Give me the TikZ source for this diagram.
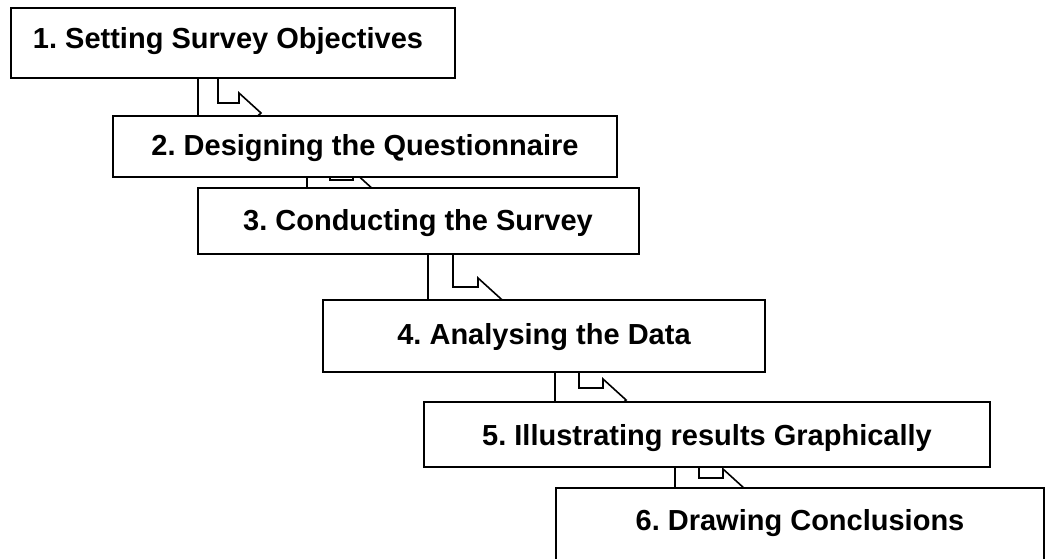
\documentclass[tikz,border=0pt]{standalone}
\usepackage{fontspec}
\setmainfont{Liberation Sans}
\usetikzlibrary{calc}
\pgfdeclarelayer{background}
\pgfsetlayers{background,main}
\frenchspacing

\tikzset{
  box/.style={draw=black, fill=white, line width=1.8pt, outer sep=0pt,
              inner sep=0pt, anchor=north west},
  lbl/.style={font=\fontsize{29}{34}\selectfont\bfseries, anchor=base, inner sep=0pt},
  conn/.style={draw=black, fill=white, line width=1.6pt, line join=miter}
}

% Bent (down, then right) block arrow leaving the bottom of a box.
% #1 source node, #2 x offset of the outer edge from its south west corner,
% #3 shaft width, #4 drop to the horizontal arm, #5 arm length, #6 barb size
\newcommand{\bentconn}[6]{%
  \begin{pgfonlayer}{background}
    \path (#1.south west) ++(#2,0) coordinate (o-#1);
    \draw[conn] (o-#1) -- ++(0,{#4+#3}) -- ++({#3+#5},0) -- ++(0,#6)
      -- ++({1.1*(#3/2+#6)},{-(#3/2+#6)})
      -- ++({-1.1*(#3/2+#6)},{-(#3/2+#6)})
      -- ++(0,#6) -- ++(-#5,0) -- ++(0,-#4) -- cycle;
  \end{pgfonlayer}%
}

\begin{document}
\begin{tikzpicture}[x=1pt,y=-1pt]
  \useasboundingbox (0,0) rectangle (1056,558);
  \clip (0,0) rectangle (1056,558);

  % step boxes
  \node[box, minimum width=444pt, minimum height=70pt] (b1) at (11,8) {};
  \node[box, minimum width=504pt, minimum height=61pt] (b2) at (113,116) {};
  \node[box, minimum width=441pt, minimum height=66pt] (b3) at (198,188) {};
  \node[box, minimum width=442pt, minimum height=72pt] (b4) at (323,300) {};
  \node[box, minimum width=566pt, minimum height=65pt] (b5) at (424,402) {};
  \node[box, minimum width=488pt, minimum height=100pt] (b6) at (556,488) {};

  % step titles
  \node[lbl] (t1) at (228,48) {1. Setting Survey Objectives};
  \node[lbl] (t2) at (365,155) {2. Designing the Questionnaire};
  \node[lbl] (t3) at (418,230) {3. Conducting the Survey};
  \node[lbl] (t4) at (544,344) {4. Analysing the Data};
  \node[lbl] (t5) at (707,445) {5. Illustrating results Graphically};
  \node[lbl] (t6) at (800,530) {6. Drawing Conclusions};

  % connectors between consecutive steps
  \bentconn{b1}{187}{20}{25}{21}{10}
  \bentconn{b2}{194}{23}{3}{23}{9}
  \bentconn{b3}{230}{25}{33}{25}{9}
  \bentconn{b4}{232}{24}{16}{24}{9}
  \bentconn{b5}{251}{24}{11}{24}{9}
\end{tikzpicture}
\end{document}
